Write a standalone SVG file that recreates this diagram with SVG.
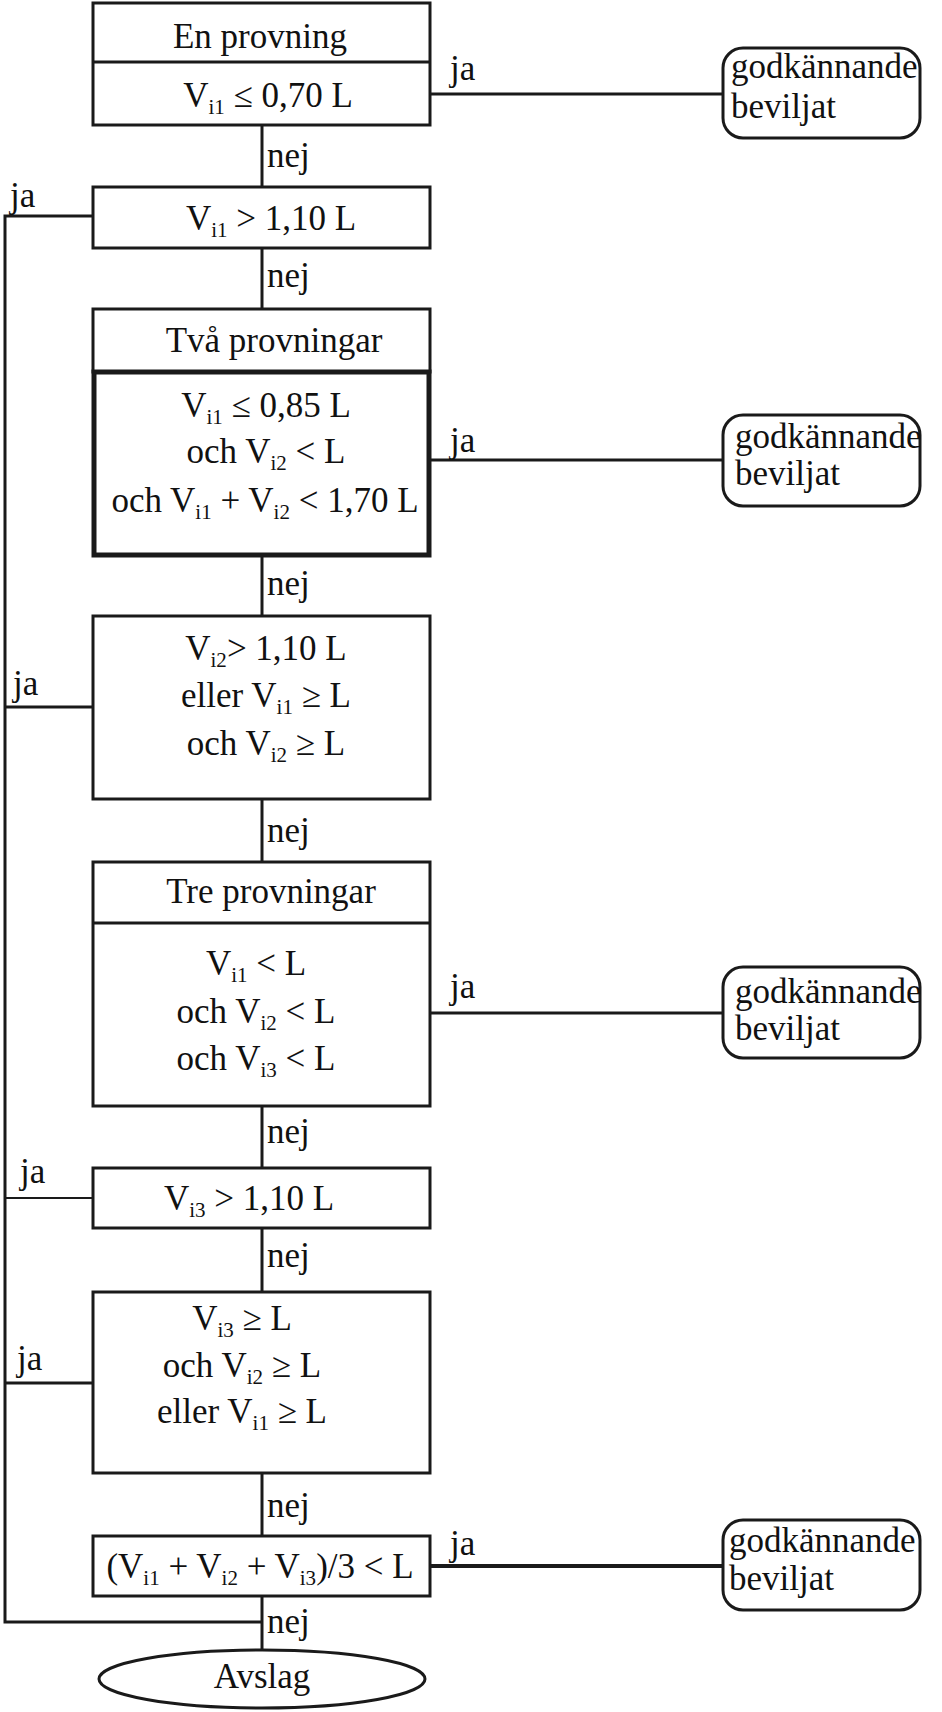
<svg xmlns="http://www.w3.org/2000/svg" width="942" height="1712" viewBox="0 0 942 1712">
<style>
.box{fill:#fff;stroke:#1a1a1a;stroke-width:3}
.thick{fill:#fff;stroke:#1a1a1a;stroke-width:5}
.ln{fill:none;stroke:#1a1a1a;stroke-width:3}
text{font-family:"Liberation Serif","Times New Roman",serif;font-size:35px;fill:#111}
.c{text-anchor:middle}
.s{font-size:21px}
</style>
<rect width="942" height="1712" fill="#fff"/>
<g id="connectors">
<line class="ln" x1="262" y1="125" x2="262" y2="187"/>
<line class="ln" x1="262" y1="248" x2="262" y2="309"/>
<line class="ln" x1="262" y1="555" x2="262" y2="616"/>
<line class="ln" x1="262" y1="799" x2="262" y2="862"/>
<line class="ln" x1="262" y1="1106" x2="262" y2="1168"/>
<line class="ln" x1="262" y1="1228" x2="262" y2="1292"/>
<line class="ln" x1="262" y1="1473" x2="262" y2="1536"/>
<line class="ln" x1="262" y1="1596" x2="262" y2="1650"/>
<line class="ln" x1="430" y1="94" x2="723" y2="94"/>
<line class="ln" x1="430" y1="460" x2="723" y2="460"/>
<line class="ln" x1="430" y1="1013" x2="723" y2="1013"/>
<line class="ln" x1="430" y1="1566" x2="723" y2="1566" style="stroke-width:4"/>
<polyline class="ln" points="93,216 5,216 5,1622 262,1622"/>
<line class="ln" x1="5" y1="707" x2="93" y2="707"/>
<line class="ln" x1="5" y1="1198" x2="93" y2="1198" style="stroke-width:2"/>
<line class="ln" x1="5" y1="1383" x2="93" y2="1383"/>
<text x="267" y="167">nej</text>
<text x="267" y="287">nej</text>
<text x="267" y="595">nej</text>
<text x="267" y="842">nej</text>
<text x="267" y="1143">nej</text>
<text x="267" y="1267">nej</text>
<text x="267" y="1517">nej</text>
<text x="267" y="1633">nej</text>
<text x="450" y="80">ja</text>
<text x="450" y="452">ja</text>
<text x="450" y="998">ja</text>
<text x="450" y="1555">ja</text>
<text x="10" y="207">ja</text>
<text x="13" y="695">ja</text>
<text x="20" y="1183">ja</text>
<text x="17" y="1370">ja</text>
</g>
<g id="n1">
<rect class="box" x="93" y="3" width="337" height="122"/>
<line class="ln" x1="93" y1="62" x2="430" y2="62"/>
<text class="c" x="260" y="48">En provning</text>
<text class="c" x="268" y="107">V<tspan class="s" dy="7">i1</tspan><tspan dy="-7"> ≤ 0,70 L</tspan></text>
</g>
<g id="n2">
<rect class="box" x="93" y="187" width="337" height="61"/>
<text class="c" x="271" y="230">V<tspan class="s" dy="7">i1</tspan><tspan dy="-7"> &gt; 1,10 L</tspan></text>
</g>
<g id="n3">
<rect class="box" x="93" y="309" width="337" height="63"/>
<text class="c" x="274" y="352">Två provningar</text>
<rect class="thick" x="94" y="372" width="335" height="183"/>
<text class="c" x="266" y="417">V<tspan class="s" dy="7">i1</tspan><tspan dy="-7"> ≤ 0,85 L</tspan></text>
<text class="c" x="266" y="463">och V<tspan class="s" dy="7">i2</tspan><tspan dy="-7"> &lt; L</tspan></text>
<text class="c" x="265" y="512">och V<tspan class="s" dy="7">i1</tspan><tspan dy="-7"> + V</tspan><tspan class="s" dy="7">i2</tspan><tspan dy="-7"> &lt; 1,70 L</tspan></text>
</g>
<g id="n4">
<rect class="box" x="93" y="616" width="337" height="183"/>
<text class="c" x="266" y="660">V<tspan class="s" dy="7">i2</tspan><tspan dy="-7">&gt; 1,10 L</tspan></text>
<text class="c" x="266" y="707">eller V<tspan class="s" dy="7">i1</tspan><tspan dy="-7"> ≥ L</tspan></text>
<text class="c" x="266" y="755">och V<tspan class="s" dy="7">i2</tspan><tspan dy="-7"> ≥ L</tspan></text>
</g>
<g id="n5">
<rect class="box" x="93" y="862" width="337" height="244"/>
<line class="ln" x1="93" y1="923" x2="430" y2="923"/>
<text class="c" x="271" y="903">Tre provningar</text>
<text class="c" x="256" y="975">V<tspan class="s" dy="7">i1</tspan><tspan dy="-7"> &lt; L</tspan></text>
<text class="c" x="256" y="1023">och V<tspan class="s" dy="7">i2</tspan><tspan dy="-7"> &lt; L</tspan></text>
<text class="c" x="256" y="1070">och V<tspan class="s" dy="7">i3</tspan><tspan dy="-7"> &lt; L</tspan></text>
</g>
<g id="n6">
<rect class="box" x="93" y="1168" width="337" height="60"/>
<text class="c" x="249" y="1210">V<tspan class="s" dy="7">i3</tspan><tspan dy="-7"> &gt; 1,10 L</tspan></text>
</g>
<g id="n7">
<rect class="box" x="93" y="1292" width="337" height="181"/>
<text class="c" x="242" y="1330">V<tspan class="s" dy="7">i3</tspan><tspan dy="-7"> ≥ L</tspan></text>
<text class="c" x="242" y="1377">och V<tspan class="s" dy="7">i2</tspan><tspan dy="-7"> ≥ L</tspan></text>
<text class="c" x="242" y="1423">eller V<tspan class="s" dy="7">i1</tspan><tspan dy="-7"> ≥ L</tspan></text>
</g>
<g id="n8">
<rect class="box" x="93" y="1536" width="337" height="60"/>
<text class="c" x="260" y="1578">(V<tspan class="s" dy="7">i1</tspan><tspan dy="-7"> + V</tspan><tspan class="s" dy="7">i2</tspan><tspan dy="-7"> + V</tspan><tspan class="s" dy="7">i3</tspan><tspan dy="-7">)/3 &lt; L</tspan></text>
</g>
<g id="avslag">
<ellipse class="box" cx="262" cy="1679" rx="163" ry="29"/>
<text class="c" x="262" y="1688">Avslag</text>
</g>
<g id="g1">
<rect class="box" x="723" y="48" width="197" height="90" rx="20"/>
<text x="731" y="78">godkännande</text>
<text x="731" y="118">beviljat</text>
</g>
<g id="g2">
<rect class="box" x="723" y="415" width="197" height="91" rx="20"/>
<text x="735" y="448">godkännande</text>
<text x="735" y="485">beviljat</text>
</g>
<g id="g3">
<rect class="box" x="723" y="967" width="197" height="91" rx="20"/>
<text x="735" y="1003">godkännande</text>
<text x="735" y="1040">beviljat</text>
</g>
<g id="g4">
<rect class="box" x="723" y="1520" width="197" height="90" rx="20"/>
<text x="729" y="1552">godkännande</text>
<text x="729" y="1590">beviljat</text>
</g>
</svg>
